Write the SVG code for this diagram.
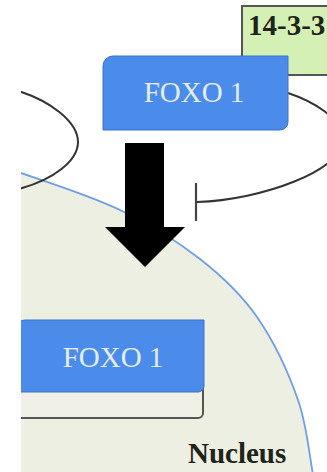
<svg xmlns="http://www.w3.org/2000/svg" width="327" height="472" viewBox="0 0 327 472">
  <defs>
    <style>
      .box { fill: #4b8be9; stroke: #3b72cc; stroke-width: 1; }
      .lbl { font-family: "Liberation Serif", "Times New Roman", serif; fill: #e4edf9; font-size: 29px; text-anchor: middle; }
      .curve { fill: none; stroke: #333333; stroke-width: 2; }
      .dark { font-family: "Liberation Serif", "Times New Roman", serif; fill: #1e2418; font-weight: bold; }
    </style>
    <clipPath id="crop">
      <rect x="21" y="0" width="306" height="472"/>
    </clipPath>
  </defs>
  <rect x="0" y="0" width="327" height="472" fill="#ffffff"/>
  <g clip-path="url(#crop)">
    <g id="nucleus">
      <path d="M15,171 C50,183 89.2,195.3 120,210 C150.8,224.7 177.2,241.2 200,259 C222.8,276.8 240.7,293.5 257,317 C273.3,340.5 288.5,372.8 298,400 C307.5,427.2 308.7,453.3 314,480 L0,480 L0,171 Z" fill="#eeefe3" stroke="none"/>
      <path d="M15,171 C50,183 89.2,195.3 120,210 C150.8,224.7 177.2,241.2 200,259 C222.8,276.8 240.7,293.5 257,317 C273.3,340.5 288.5,372.8 298,400 C307.5,427.2 308.7,453.3 314,480" fill="none" stroke="#6d9ee6" stroke-width="1.8"/>
      <text class="dark" x="188" y="463" font-size="29">Nucleus</text>
    </g>
    <g id="connectors">
      <path class="curve" d="M15,90 C50,100 78,122 78,142 C78,160 55,180 15,190"/>
      <path class="curve" d="M288,93 C312,101 343,118 343,140 C343,170 262,200 197,202"/>
      <line x1="196" y1="183" x2="196" y2="221" stroke="#444444" stroke-width="2.2"/>
      <polygon points="125,143 164,143 164,227 185,227 145,267 105,227 125,227" fill="#000000"/>
    </g>
    <g id="n14-3-3">
      <rect x="242" y="6" width="100" height="69" fill="#d5f0b4" stroke="#555555" stroke-width="2"/>
      <text class="dark" x="248" y="35" font-size="29">14-3-3</text>
    </g>
    <g id="foxo1-cyto">
      <path class="box" d="M103,66 A10,10 0 0 1 113,56 L288,56 L288,122 A8,8 0 0 1 280,130 L103,130 Z"/>
      <text class="lbl" x="194" y="102">FOXO 1</text>
    </g>
    <g id="foxo1-nuc">
      <path d="M10,335 L203,335 L203,413 A5,5 0 0 1 198,418 L10,418 Z" fill="#f0f0e7" stroke="#555555" stroke-width="2"/>
      <path class="box" d="M17,328 A8,8 0 0 1 25,320 L204,320 L204,386 A6,6 0 0 1 198,392 L17,392 Z"/>
      <text class="lbl" x="113" y="367">FOXO 1</text>
    </g>
  </g>
</svg>
